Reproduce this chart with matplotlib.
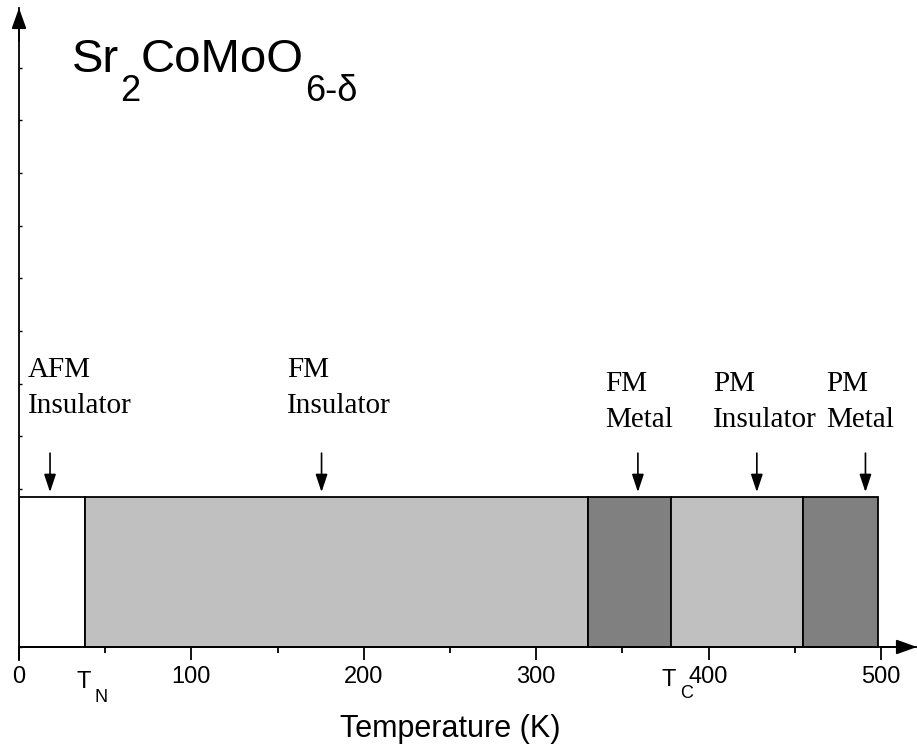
import matplotlib
matplotlib.use("Agg")
import matplotlib.pyplot as plt

plt.rcParams["font.family"] = ["Liberation Sans", "DejaVu Sans"]

# phase boundaries along the temperature axis (K) and the fill of each phase
edges = [0, 38.5, 330, 378, 455, 498]
fills = ["white", "#c0c0c0", "#808080", "#c0c0c0", "#808080"]
bar_top = 2.85

phase_names = ["AFM\nInsulator", "FM\nInsulator", "FM\nMetal", "PM\nInsulator", "PM\nMetal"]
name_x = [5, 155.5, 340, 402.5, 468.5]
name_y = [4.44, 4.44, 4.18, 4.18, 4.18]
arrow_x = [18, 175.5, 359, 428, 491]

xticks = [0, 100, 200, 300, 400, 500]
T_N = edges[1]
T_C = edges[3]

fig = plt.figure(figsize=(9.17, 7.46), dpi=100)
ax = fig.add_axes([19 / 917, 86 / 746, 898 / 917, 652 / 746])
ax.set_xlim(0, 520.9)
ax.set_ylim(-0.247, 12.13)

# phase bars
for i in range(len(fills)):
    ax.bar(edges[i], bar_top, width=edges[i + 1] - edges[i], bottom=0,
           align="edge", color=fills[i], edgecolor="black", linewidth=1.3, zorder=2)

# arrows pointing at each phase
for x in arrow_x:
    ax.annotate("", xy=(x, 2.94), xytext=(x, 3.68),
                arrowprops=dict(arrowstyle="-|>,head_length=0.6,head_width=0.2",
                                color="black", lw=1.2, mutation_scale=18,
                                shrinkA=0, shrinkB=0))

for s, x, y in zip(phase_names, name_x, name_y):
    ax.text(x, y, s, family="Liberation Serif", fontsize=21, ha="left",
            va="baseline", linespacing=1.5)

# axes with arrow heads
for side in ["top", "right"]:
    ax.spines[side].set_visible(False)
ax.spines["bottom"].set_position(("data", 0))
ax.spines["bottom"].set_linewidth(1.3)
ax.spines["left"].set_linewidth(1.3)
ax.spines["bottom"].set_zorder(3)
ax.annotate("", xy=(520.9, 0), xytext=(500, 0), annotation_clip=False,
            arrowprops=dict(arrowstyle="-|>,head_length=0.7,head_width=0.25",
                            color="black", lw=1.3, mutation_scale=18,
                            shrinkA=0, shrinkB=0))
ax.annotate("", xy=(0, 12.13), xytext=(0, 11.5), annotation_clip=False,
            arrowprops=dict(arrowstyle="-|>,head_length=0.7,head_width=0.25",
                            color="black", lw=1.3, mutation_scale=18,
                            shrinkA=0, shrinkB=0))

ax.set_xticks(xticks)
ax.set_xticklabels([str(t) for t in xticks])
ax.set_xticks([50, 150, 250, 350, 450], minor=True)
ax.tick_params(axis="x", which="major", direction="out", length=9, width=1.3,
               labelsize=17, pad=5)
ax.tick_params(axis="x", which="minor", direction="out", length=4.5, width=1.3)
ax.set_yticks(range(0, 12))
ax.set_yticklabels([])
ax.tick_params(axis="y", direction="in", length=2.5, width=1)

# transition temperatures
ax.text(T_N - 1, -0.78, "T", fontsize=17, ha="center", va="baseline")
ax.annotate("N", xy=(T_N - 1, -0.78), xytext=(7.5, -10), textcoords="offset points",
            fontsize=13, ha="left", va="baseline", annotation_clip=False)
ax.text(T_C - 1, -0.75, "T", fontsize=17, ha="center", va="baseline")
ax.annotate("C", xy=(T_C - 1, -0.75), xytext=(8, -8), textcoords="offset points",
            fontsize=13, ha="left", va="baseline", annotation_clip=False)

ax.text(250, -1.71, "Temperature (K)", fontsize=22, ha="center", va="baseline")

# compound formula with lowered subscripts
t1 = ax.text(30.7, 10.91, "Sr", fontsize=34, ha="left", va="baseline")
t2 = ax.annotate("2", xy=(1, 0), xycoords=t1, xytext=(1, -19.4),
                 textcoords="offset points", fontsize=26, ha="left", va="bottom")
t3 = ax.annotate("CoMoO", xy=(1, 0), xycoords=t2, xytext=(0, 19.4),
                 textcoords="offset points", fontsize=34, ha="left", va="bottom")
ax.annotate("6-δ", xy=(1, 0), xycoords=t3, xytext=(1, -19.4),
            textcoords="offset points", fontsize=26, ha="left", va="bottom")

fig.savefig("out.png", dpi=100)
